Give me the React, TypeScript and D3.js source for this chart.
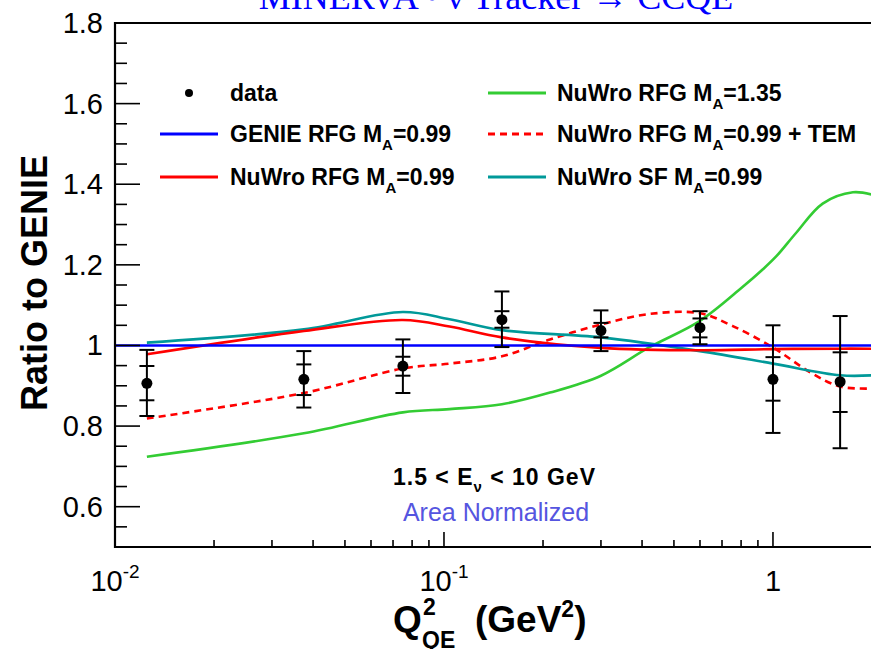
import React from "react";
import * as d3 from "d3";

// ---- data ----
const dataQ = [0.0125, 0.0375, 0.075, 0.15, 0.3, 0.6, 1.0, 1.6];
const dataR = [0.906, 0.916, 0.949, 1.064, 1.037, 1.044, 0.916, 0.910];
const statLo = [0.864, 0.877, 0.925, 1.044, 1.020, 1.020, 0.863, 0.835];
const statHi = [0.949, 0.953, 0.972, 1.085, 1.056, 1.067, 0.971, 0.983];
const totLo = [0.825, 0.846, 0.882, 0.996, 0.986, 1.003, 0.783, 0.745];
const totHi = [0.989, 0.986, 1.015, 1.134, 1.087, 1.085, 1.050, 1.073];

const genieQ = [0.01, 2.0];
const genieR = [1.0, 1.0];

const nuwroQ = [0.0125, 0.0375, 0.075, 0.104, 0.15, 0.3, 0.6, 1.0, 1.6, 2.0];
const nuwroR = [0.978, 1.036, 1.063, 1.047, 1.02, 0.994, 0.988, 0.991, 0.992, 0.992];

const sfQ = [0.0125, 0.0375, 0.075, 0.104, 0.15, 0.3, 0.6, 1.0, 1.6, 2.0];
const sfR = [1.007, 1.04, 1.083, 1.065, 1.038, 1.02, 0.986, 0.955, 0.926, 0.926];

const temQ = [0.0125, 0.0375, 0.075, 0.104, 0.15, 0.21, 0.3, 0.42, 0.6, 0.755, 1.0, 1.3, 1.6, 2.0];
const temR = [0.819, 0.882, 0.943, 0.955, 0.973, 1.015, 1.052, 1.078, 1.08, 1.048, 0.995, 0.933, 0.898, 0.893];

const ma135Q = [0.0125, 0.0375, 0.075, 0.104, 0.15, 0.21, 0.3, 0.42, 0.6, 0.803, 0.932, 1.026, 1.175, 1.416, 1.75, 2.0];
const ma135R = [0.724, 0.782, 0.834, 0.842, 0.854, 0.883, 0.925, 0.995, 1.061, 1.143, 1.189, 1.222, 1.279, 1.352, 1.38, 1.374];

const yTickLabels = ["0.6", "0.8", "1", "1.2", "1.4", "1.6", "1.8"];
const yTickValues = [0.6, 0.8, 1.0, 1.2, 1.4, 1.6, 1.8];
const xMajorValues = [0.01, 0.1, 1];
const xMajorBase = ["10", "10", "1"];
const xMajorExp = ["-2", "-1", ""];

const COLORS = {
  genie: "#0000ff",
  nuwro: "#ff0000",
  sf: "#009999",
  tem: "#ff0000",
  ma135: "#33cc33",
};

const W = 871;
const H = 649;
const FONT = "'Liberation Sans', Arial, Helvetica, sans-serif";

export default function App() {
  const x = d3.scaleLog().domain([0.01, 2.0]).range([115, 872]);
  const y = d3.scaleLinear().domain([0.5, 1.8]).range([547, 23]);

  const line = d3
    .line<[number, number]>()
    .x((d) => x(d[0]))
    .y((d) => y(d[1]))
    .curve(d3.curveCatmullRom.alpha(0.5));

  const zip = (q: number[], r: number[]) => q.map((v, i) => [v, r[i]] as [number, number]);

  const yMinor = d3.range(0.55, 1.8, 0.05).map((v) => Math.round(v * 100) / 100);
  const xMinor: number[] = [];
  [-2, -1, 0].forEach((e) => {
    for (let k = 2; k <= 9; k++) {
      const v = k * Math.pow(10, e);
      if (v < 2.0) xMinor.push(v);
    }
  });

  const legendRows = [93, 134, 177];
  const legL = [
    { label: "data", kind: "dot" },
    { label: "GENIE RFG M", sub: "A", tail: "=0.99", color: COLORS.genie },
    { label: "NuWro RFG M", sub: "A", tail: "=0.99", color: COLORS.nuwro },
  ];
  const legR = [
    { label: "NuWro RFG M", sub: "A", tail: "=1.35", color: COLORS.ma135 },
    { label: "NuWro RFG M", sub: "A", tail: "=0.99 + TEM", color: COLORS.tem, dash: true },
    { label: "NuWro SF M", sub: "A", tail: "=0.99", color: COLORS.sf },
  ];

  const renderLegend = (items: any[], lx: number, tx: number) =>
    items.map((it, i) => {
      const cy = legendRows[i];
      return (
        <g key={it.label + it.tail + i}>
          {it.kind === "dot" ? (
            <circle cx={lx + 29} cy={cy} r={4} fill="#000" />
          ) : (
            <line
              x1={lx}
              x2={lx + 58}
              y1={cy}
              y2={cy}
              stroke={it.color}
              strokeWidth={3}
              strokeDasharray={it.dash ? "7,5" : undefined}
            />
          )}
          <text x={tx} y={cy + 8} fontFamily={FONT} fontWeight="bold" fontSize={23} fill="#000">
            {it.label}
            {it.sub ? (
              <tspan fontSize={15} dy={8}>
                {it.sub}
              </tspan>
            ) : null}
            {it.tail ? <tspan dy={it.sub ? -8 : 0}>{it.tail}</tspan> : null}
          </text>
        </g>
      );
    });

  return (
    <svg
      width={W}
      height={H}
      style={{ position: "absolute", left: 0, top: 0, display: "block", background: "#fff" }}
    >
      <rect x={0} y={0} width={W} height={H} fill="#fff" />
      {/* title, cut at the top */}
      <text x={496} y={9} textAnchor="middle" fontFamily="'Liberation Serif', 'Times New Roman', serif" fontSize={36} fill="#0000ff">
        MINERvA • ν Tracker → CCQE
      </text>

      {/* curves */}
      <path d={line(zip(ma135Q, ma135R)) || ""} fill="none" stroke={COLORS.ma135} strokeWidth={2.6} />
      <path d={line(zip(temQ, temR)) || ""} fill="none" stroke={COLORS.tem} strokeWidth={2.6} strokeDasharray="7,5" />
      <path d={line(zip(sfQ, sfR)) || ""} fill="none" stroke={COLORS.sf} strokeWidth={2.6} />
      <path d={line(zip(nuwroQ, nuwroR)) || ""} fill="none" stroke={COLORS.nuwro} strokeWidth={2.6} />
      <path d={line(zip(genieQ, genieR)) || ""} fill="none" stroke={COLORS.genie} strokeWidth={2.6} />

      {/* data */}
      {dataQ.map((q, i) => {
        const cx = x(q);
        const cap = 7.5;
        return (
          <g key={"d" + i} stroke="#000" strokeWidth={2}>
            <line x1={cx} x2={cx} y1={y(totLo[i])} y2={y(totHi[i])} />
            {[totLo[i], totHi[i], statLo[i], statHi[i]].map((v, j) => (
              <line key={j} x1={cx - cap} x2={cx + cap} y1={y(v)} y2={y(v)} />
            ))}
            <circle cx={cx} cy={y(dataR[i])} r={5.5} fill="#000" stroke="none" />
          </g>
        );
      })}

      {/* frame */}
      <g stroke="#000" strokeWidth={2.2} fill="none">
        <line x1={115} x2={W} y1={23} y2={23} />
        <line x1={115} x2={W} y1={547} y2={547} />
        <line x1={115} x2={115} y1={22} y2={548} />
      </g>
      {/* y ticks */}
      <g stroke="#000" strokeWidth={1.6}>
        {yMinor.map((v) => {
          const major = yTickValues.some((t) => Math.abs(t - v) < 1e-6);
          return <line key={"ym" + v} x1={115} x2={115 + (major ? 25 : 12)} y1={y(v)} y2={y(v)} />;
        })}
      </g>
      {yTickValues.map((v, i) => (
        <text key={"yl" + v} x={103} y={y(v) + 10} textAnchor="end" fontFamily={FONT} fontSize={29} fill="#000">
          {yTickLabels[i]}
        </text>
      ))}
      {/* x ticks */}
      <g stroke="#000" strokeWidth={1.6}>
        {xMajorValues.map((v) => (
          <line key={"xM" + v} x1={x(v)} x2={x(v)} y1={547} y2={532} />
        ))}
        {xMinor.map((v) => (
          <line key={"xm" + v} x1={x(v)} x2={x(v)} y1={547} y2={540} />
        ))}
      </g>
      {xMajorValues.map((v, i) => (
        <text key={"xl" + v} x={x(v)} y={591} textAnchor="middle" fontFamily={FONT} fontSize={29} fill="#000">
          {xMajorBase[i]}
          {xMajorExp[i] ? (
            <tspan fontSize={19} dy={-13}>
              {xMajorExp[i]}
            </tspan>
          ) : null}
        </text>
      ))}

      {/* axis titles */}
      <text
        transform="translate(47,283) rotate(-90)"
        textAnchor="middle"
        fontFamily={FONT}
        fontWeight="bold"
        fontSize={36}
        fill="#000"
      >
        Ratio to GENIE
      </text>
      <g fontFamily={FONT} fontWeight="bold" fill="#000">
        <text x={393} y={632} fontSize={37}>Q</text>
        <text x={423} y={615} fontSize={23}>2</text>
        <text x={422} y={648} fontSize={23}>QE</text>
        <text x={475} y={632} fontSize={37}>
          (GeV
          <tspan fontSize={23} dy={-15}>2</tspan>
          <tspan dy={15}>)</tspan>
        </text>
      </g>

      {/* annotations */}
      <text
        x={393}
        y={485}
        textLength={202}
        lengthAdjust="spacing"
        fontFamily={FONT}
        fontWeight="bold"
        fontSize={23}
        fill="#000"
      >
        1.5 &lt; E
        <tspan fontSize={15} dy={7}>ν</tspan>
        <tspan dy={-7}> &lt; 10 GeV</tspan>
      </text>
      <text x={496} y={521} textAnchor="middle" fontFamily={FONT} fontSize={25} fill="#5555e0">
        Area Normalized
      </text>

      {/* legend */}
      {renderLegend(legL, 160, 230)}
      {renderLegend(legR, 488, 557)}
    </svg>
  );
}
